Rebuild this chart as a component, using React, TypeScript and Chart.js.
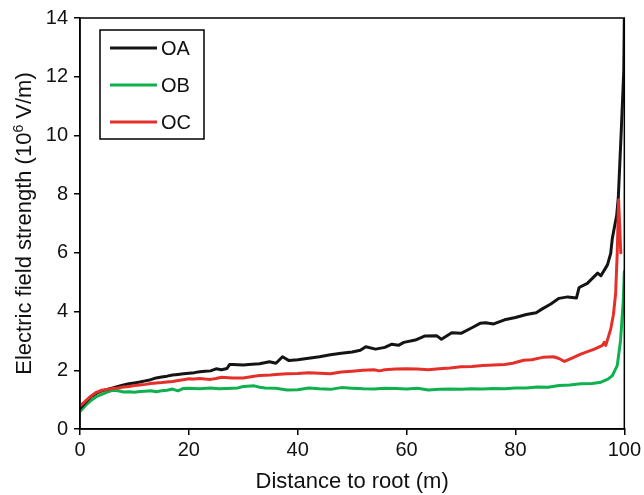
import React, { useEffect, useRef } from "react";
import { Chart, registerables } from "chart.js";

Chart.register(...registerables);

const xTickLabels = ["0", "20", "40", "60", "80", "100"];
const yTickLabels = ["0", "2", "4", "6", "8", "10", "12", "14"];

const seriesNames = ["OA", "OB", "OC"];
const seriesColors = ["#141414", "#0fb04e", "#e5302a"];

const oaDistance = [0, 1, 2, 3, 4, 5, 6, 7, 8, 9, 10, 11, 12, 13, 14, 15, 16, 17, 18, 19, 20, 21, 22, 23, 24, 25, 26, 27, 27.5, 28, 30, 31, 33, 34.8, 36, 37.2, 38.4, 40, 42, 44, 46, 48, 50, 51.5, 52.5, 54.3, 56, 57.3, 58.5, 59.5, 61.6, 63.4, 65.5, 66.4, 68.3, 70, 72, 73.5, 74.5, 76, 78, 80, 82, 83.8, 85, 86.5, 88, 89.6, 91.2, 91.7, 93.2, 95.1, 95.7, 96.9, 97.5, 97.8, 98.6, 98.9, 99.45, 99.9, 100];
const oaField = [0.7, 0.9, 1.1, 1.22, 1.3, 1.35, 1.4, 1.45, 1.5, 1.54, 1.57, 1.6, 1.64, 1.68, 1.74, 1.77, 1.8, 1.84, 1.86, 1.88, 1.9, 1.92, 1.95, 1.97, 1.98, 2.05, 2.02, 2.06, 2.2, 2.2, 2.18, 2.2, 2.22, 2.29, 2.24, 2.46, 2.33, 2.36, 2.41, 2.46, 2.53, 2.58, 2.62, 2.68, 2.8, 2.72, 2.78, 2.89, 2.85, 2.95, 3.03, 3.17, 3.18, 3.06, 3.28, 3.26, 3.45, 3.6, 3.62, 3.58, 3.72, 3.8, 3.9, 3.96, 4.1, 4.26, 4.45, 4.5, 4.46, 4.82, 4.96, 5.31, 5.22, 5.59, 5.98, 6.5, 7.28, 7.9, 10.2, 12.2, 14];

const obDistance = [0, 1, 2, 3, 4, 5, 6, 7, 8, 9, 10, 11, 12, 13, 14, 15, 16, 17, 18, 19, 20, 22, 24, 25.5, 27, 29, 30, 32, 33, 34, 36, 38, 40, 42, 44, 46, 48, 50, 52, 54, 56, 58, 60, 62, 64, 66, 68, 70, 72, 74, 76, 78, 80, 82, 84, 86, 88, 90, 92, 94, 95.5, 97, 97.8, 98.7, 99.3, 99.8, 100];
const obField = [0.6, 0.8, 0.97, 1.1, 1.18, 1.26, 1.32, 1.3, 1.26, 1.27, 1.25, 1.28, 1.29, 1.3, 1.27, 1.3, 1.32, 1.36, 1.3, 1.38, 1.39, 1.37, 1.4, 1.37, 1.38, 1.4, 1.45, 1.47, 1.42, 1.4, 1.39, 1.33, 1.34, 1.4, 1.37, 1.35, 1.41, 1.39, 1.37, 1.36, 1.39, 1.38, 1.36, 1.39, 1.33, 1.35, 1.36, 1.35, 1.37, 1.36, 1.38, 1.37, 1.4, 1.4, 1.43, 1.42, 1.48, 1.5, 1.54, 1.55, 1.58, 1.7, 1.82, 2.16, 3.0, 4.35, 5.36];

const ocDistance = [0, 1, 2, 3, 4, 5, 6, 7, 8, 9, 10, 11, 12, 13, 14, 15, 16, 17, 18, 19, 20, 21, 22, 23, 24, 25, 26, 28, 30, 32, 33, 35, 36, 38, 40, 42, 44, 46, 48, 50, 52, 54, 55, 56, 58, 60, 62, 64, 66, 68, 70, 72, 74, 76, 78, 79.5, 81.5, 83, 85, 87, 88, 89, 90.5, 92, 94.5, 96, 96.3, 96.6, 97.5, 98, 98.4, 98.7, 98.95, 99.35];
const ocField = [0.78, 0.95, 1.12, 1.25, 1.32, 1.35, 1.38, 1.4, 1.43, 1.45, 1.48, 1.5, 1.52, 1.55, 1.57, 1.58, 1.6, 1.62, 1.65, 1.68, 1.71, 1.7, 1.72, 1.7, 1.69, 1.72, 1.76, 1.74, 1.74, 1.8, 1.82, 1.84, 1.86, 1.88, 1.89, 1.92, 1.9, 1.88, 1.94, 1.97, 2.0, 2.02, 1.98, 2.02, 2.04, 2.05, 2.04, 2.02, 2.05, 2.08, 2.12, 2.13, 2.16, 2.18, 2.2, 2.24, 2.34, 2.36, 2.44, 2.46, 2.4, 2.3, 2.42, 2.55, 2.72, 2.85, 2.95, 2.85, 3.4, 3.9, 4.6, 6.0, 7.8, 6.0];

const FONT = "'Liberation Sans', Arial, Helvetica, sans-serif";

function toPoints(xs: number[], ys: number[]) {
  return xs.map((x, i) => ({ x, y: ys[i] }));
}

const framePlugin = {
  id: "frameAndText",
  afterDraw(chart: any) {
    const { ctx, chartArea } = chart;
    const { left, right, top, bottom } = chartArea;
    ctx.save();
    // frame
    ctx.strokeStyle = "#000";
    ctx.lineWidth = 1.5;
    ctx.strokeRect(left, top, right - left, bottom - top);

    // legend
    const lx = 100, ly = 30, lw = 104, lh = 109;
    ctx.lineWidth = 1.5;
    ctx.strokeRect(lx, ly, lw, lh);
    const rows = [48, 85, 122];
    chart.data.datasets.forEach((ds: any, i: number) => {
      const y = rows[i];
      ctx.strokeStyle = ds.borderColor;
      ctx.lineWidth = 3;
      ctx.beginPath();
      ctx.moveTo(110, y);
      ctx.lineTo(157, y);
      ctx.stroke();
      ctx.fillStyle = "#111";
      ctx.font = `20px ${FONT}`;
      ctx.textBaseline = "middle";
      ctx.textAlign = "left";
      ctx.fillText(ds.label, 161, y + 1);
    });

    // x title
    ctx.fillStyle = "#111";
    ctx.font = `22px ${FONT}`;
    ctx.textAlign = "center";
    ctx.textBaseline = "alphabetic";
    ctx.fillText("Distance to root (m)", (left + right) / 2, 488);

    // y title with superscript
    ctx.save();
    const cy = (top + bottom) / 2;
    ctx.translate(31, cy);
    ctx.rotate(-Math.PI / 2);
    const p1 = "Electric field strength (10";
    const sup = "6";
    const p2 = " V/m)";
    ctx.font = `22px ${FONT}`;
    const w1 = ctx.measureText(p1).width;
    const w3 = ctx.measureText(p2).width;
    ctx.font = `14px ${FONT}`;
    const w2 = ctx.measureText(sup).width;
    const total = w1 + w2 + w3;
    let x0 = -total / 2;
    ctx.textAlign = "left";
    ctx.font = `22px ${FONT}`;
    ctx.fillText(p1, x0, 0);
    ctx.font = `14px ${FONT}`;
    ctx.fillText(sup, x0 + w1, -8);
    ctx.font = `22px ${FONT}`;
    ctx.fillText(p2, x0 + w1 + w2, 0);
    ctx.restore();

    ctx.restore();
  },
};

export default function App() {
  const ref = useRef<HTMLCanvasElement | null>(null);

  useEffect(() => {
    if (!ref.current) return;
    const chart = new Chart(ref.current, {
      type: "line",
      data: {
        datasets: [
          { label: seriesNames[0], data: toPoints(oaDistance, oaField), borderColor: seriesColors[0], order: 1 },
          { label: seriesNames[1], data: toPoints(obDistance, obField), borderColor: seriesColors[1], order: 2 },
          { label: seriesNames[2], data: toPoints(ocDistance, ocField), borderColor: seriesColors[2], order: 0 },
        ].map((d) => ({
          ...d,
          borderWidth: 3,
          pointRadius: 0,
          tension: 0,
          fill: false,
          borderJoinStyle: "round" as const,
          borderCapStyle: "round" as const,
        })),
      },
      options: {
        animation: false,
        responsive: true,
        maintainAspectRatio: false,
        layout: { padding: { top: 14, right: 17, left: 0, bottom: 0 } },
        plugins: { legend: { display: false }, tooltip: { enabled: false }, title: { display: false } },
        scales: {
          x: {
            type: "linear",
            min: 0,
            max: 100,
            afterBuildTicks: (scale: any) => {
              scale.ticks = xTickLabels.map((t) => ({ value: Number(t) }));
            },
            afterFit: (scale: any) => {
              scale.height = 66;
            },
            ticks: {
              color: "#111",
              font: { family: FONT, size: 20 },
              padding: 3,
              maxRotation: 0,
              autoSkip: false,
            },
            grid: { display: true, drawOnChartArea: false, drawTicks: true, tickLength: 6, color: "#000", lineWidth: 1.5 },
            border: { display: true, color: "#000", width: 1.5 },
          },
          y: {
            type: "linear",
            min: 0,
            max: 14,
            afterBuildTicks: (scale: any) => {
              scale.ticks = yTickLabels.map((t) => ({ value: Number(t) }));
            },
            afterFit: (scale: any) => {
              scale.width = 80;
            },
            ticks: {
              color: "#111",
              font: { family: FONT, size: 20 },
              padding: 6,
              autoSkip: false,
            },
            grid: { display: true, drawOnChartArea: false, drawTicks: true, tickLength: 6, color: "#000", lineWidth: 1.5 },
            border: { display: true, color: "#000", width: 1.5 },
          },
        },
      },
      plugins: [framePlugin],
    });
    return () => chart.destroy();
  }, []);

  return (
    <div style={{ position: "absolute", left: 0, top: 0, width: 644, height: 495, background: "#fff" }}>
      <canvas ref={ref} />
    </div>
  );
}
